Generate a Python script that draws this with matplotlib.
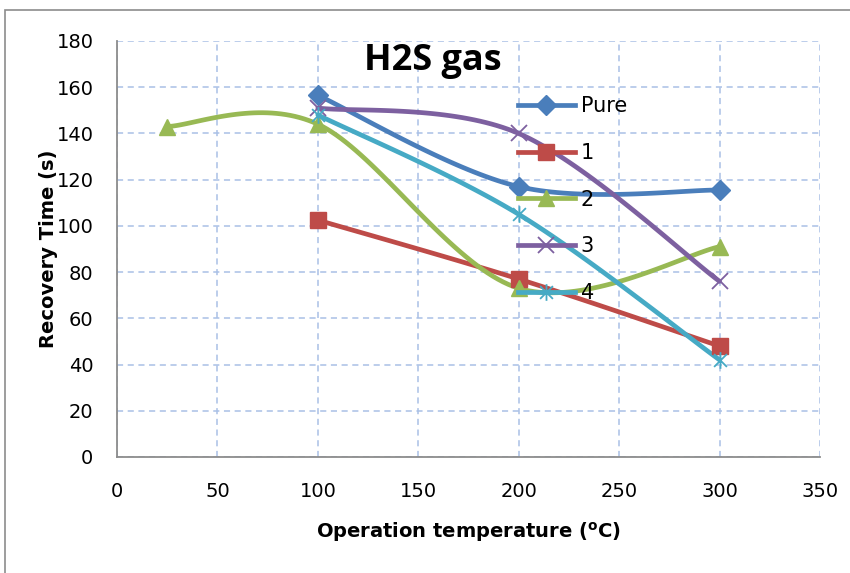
import matplotlib
matplotlib.use("Agg")
import matplotlib.pyplot as plt
import numpy as np
from matplotlib.path import Path
from matplotlib.patches import Rectangle

plt.rcParams['font.family'] = ['DejaVu Sans']

# data
labels = ["Pure", "1", "2", "3", "4"]
temps_pure = [100, 200, 300]
rec_pure = [156.5, 117, 115.5]
temps_1 = [100, 200, 300]
rec_1 = [102.5, 77, 48]
temps_2 = [25, 100, 200, 300]
rec_2 = [143, 144, 73, 91]
temps_3 = [100, 200, 300]
rec_3 = [151, 140, 76]
temps_4 = [100, 200, 300]
rec_4 = [148, 105, 42]

colors = ["#4A7EBB", "#BE4B48", "#98B954", "#7D60A0", "#46AAC5"]

# excel-style asterisk: an x plus a vertical bar
asterisk = Path([(-1, -1), (1, 1), (-1, 1), (1, -1), (0, -1.3), (0, 1.3)],
                [Path.MOVETO, Path.LINETO, Path.MOVETO, Path.LINETO, Path.MOVETO, Path.LINETO])


def smooth(x, y, n=40):
    # bezier smoothing like excel's "smoothed line"
    p = np.column_stack([x, y]).astype(float)
    out = [p[0]]
    t = np.linspace(0, 1, n)[1:, None]
    for i in range(len(p) - 1):
        p_prev = p[i - 1] if i > 0 else p[i]
        p_next = p[i + 2] if i + 2 < len(p) else p[i + 1]
        c1 = p[i] + (p[i + 1] - p_prev) / 6
        c2 = p[i + 1] - (p_next - p[i]) / 6
        seg = ((1 - t) ** 3 * p[i] + 3 * (1 - t) ** 2 * t * c1
               + 3 * (1 - t) * t ** 2 * c2 + t ** 3 * p[i + 1])
        out.extend(seg)
    out = np.array(out)
    return out[:, 0], out[:, 1]


fig = plt.figure(figsize=(8.5, 5.73), dpi=100)
ax = fig.add_axes([117 / 850, 1 - 457 / 573, 703 / 850, 416 / 573])

fig.patches.append(Rectangle((5 / 850, -0.1), 1.2, 1 - 10 / 573 + 0.1, transform=fig.transFigure,
                             fill=False, edgecolor="#8c8c8c", lw=1.2))

series = [
    (temps_pure, rec_pure, "D", 10, {}),
    (temps_1, rec_1, "s", 11, {}),
    (temps_2, rec_2, "^", 12, {}),
    (temps_3, rec_3, "x", 11, {"markeredgewidth": 1.3}),
    (temps_4, rec_4, asterisk, 12, {"markeredgewidth": 1.3}),
]

handles = []
for (xs, ys, mk, ms, kw), c, lab in zip(series, colors, labels):
    sx, sy = smooth(xs, ys)
    ax.plot(sx, sy, color=c, lw=3.4, solid_capstyle="round", zorder=3)
    ax.plot(xs, ys, ls="none", marker=mk, ms=ms, color=c, zorder=4, **kw)
    h, = ax.plot([], [], color=c, lw=3.4, marker=mk, ms=ms, label=lab, **kw)
    handles.append(h)

ax.set_xlim(0, 350)
ax.set_ylim(0, 180)
ax.set_xticks(np.arange(0, 351, 50))
ax.set_yticks(np.arange(0, 181, 20))
ax.grid(True, color="#a9c0e6", ls=(0, (4, 3)), lw=1.1)
ax.set_axisbelow(True)
for s in ["top", "right"]:
    ax.spines[s].set_visible(False)
for s in ["left", "bottom"]:
    ax.spines[s].set_color("#8c8c8c")
    ax.spines[s].set_linewidth(1.3)
ax.tick_params(axis="x", length=0, labelsize=14, pad=18)
ax.tick_params(axis="y", length=0, labelsize=14, pad=17)

ax.set_xlabel("Operation temperature ($^{\\mathregular{o}}$C)", fontsize=14, fontweight="bold")
ax.set_ylabel("Recovery Time (s)", fontsize=14, fontweight="bold")
ax.xaxis.set_label_coords(0.5, -0.152)
ax.yaxis.set_label_coords(-0.084, 0.5)

fig.text(433 / 850, 1 - 61 / 573, "H2S gas", fontsize=26, fontweight="bold",
         ha="center", va="center", family=["Open Sans", "DejaVu Sans"])

ax.legend(handles=handles, loc="upper left", bbox_to_anchor=((510 - 117) / 703, (457 - 88) / 416),
          frameon=False, fontsize=15, labelspacing=1.28, handlelength=2.7, handletextpad=0.3,
          borderaxespad=0)

fig.savefig("out.png", dpi=100)
